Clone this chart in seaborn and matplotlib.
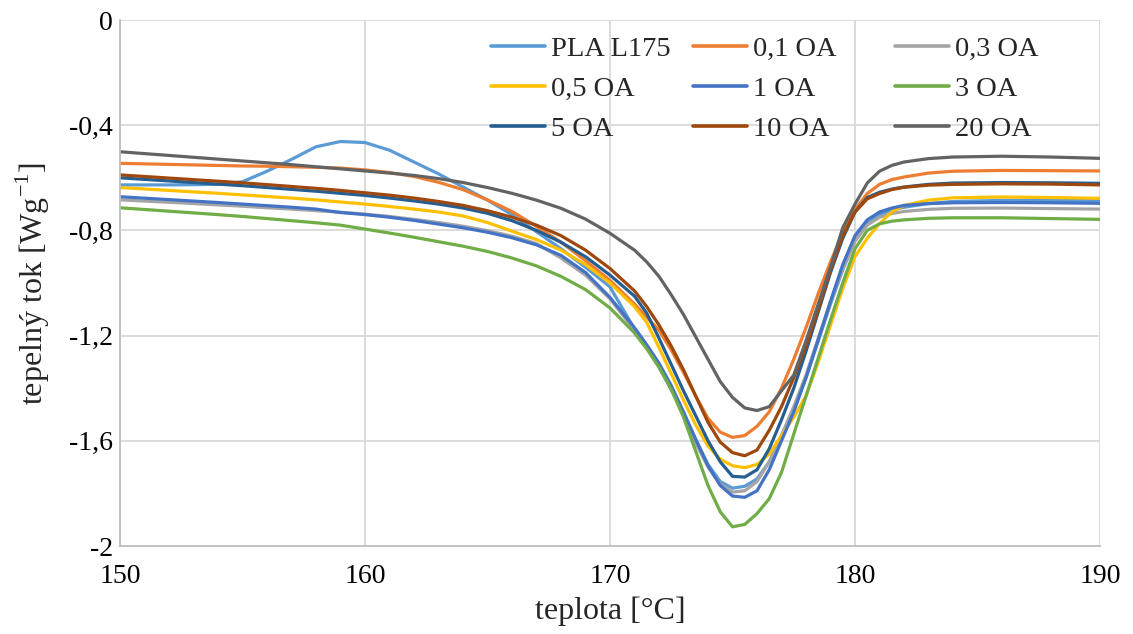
import numpy as np
import pandas as pd
import matplotlib
matplotlib.use("Agg")
import matplotlib.pyplot as plt
import seaborn as sns
from matplotlib.ticker import FixedLocator, FuncFormatter

# temperature grid [°C]
temperature = [150, 152, 154, 155, 156, 157, 158, 159, 160, 161, 162, 163, 164, 165, 166, 167, 168, 169, 170,
               171, 171.5, 172, 172.5, 173, 173.5, 174, 174.5, 175, 175.5, 176, 176.5, 177, 177.5,
               178, 178.5, 179, 179.5, 180, 180.5, 181, 181.5, 182, 183, 184, 186, 188, 190]

# heat flow [W/g]
pla_l175 = [-0.627, -0.627, -0.625, -0.615, -0.575, -0.530, -0.482, -0.462, -0.466, -0.495, -0.540, -0.585,
            -0.635, -0.685, -0.740, -0.805, -0.870, -0.940, -1.015,
            -1.175, -1.245, -1.320, -1.405, -1.495, -1.595, -1.690, -1.755, -1.780, -1.773, -1.745, -1.680,
            -1.580, -1.480, -1.360, -1.220, -1.080, -0.950, -0.840, -0.775, -0.740, -0.722, -0.712, -0.698,
            -0.690, -0.686, -0.686, -0.687]
oa_01 = [-0.545, -0.549, -0.553, -0.555, -0.556, -0.558, -0.560, -0.563, -0.570, -0.580, -0.595, -0.617,
         -0.645, -0.684, -0.728, -0.785, -0.845, -0.915, -0.990,
         -1.080, -1.130, -1.180, -1.255, -1.340, -1.430, -1.515, -1.567, -1.587, -1.580, -1.545, -1.490,
         -1.400, -1.290, -1.170, -1.040, -0.920, -0.810, -0.720, -0.660, -0.625, -0.607, -0.597, -0.582,
         -0.575, -0.572, -0.573, -0.574]
oa_03 = [-0.684, -0.693, -0.703, -0.708, -0.714, -0.719, -0.725, -0.731, -0.738, -0.747, -0.758, -0.770,
         -0.784, -0.801, -0.822, -0.850, -0.905, -0.970, -1.060,
         -1.180, -1.245, -1.315, -1.400, -1.500, -1.610, -1.700, -1.765, -1.795, -1.790, -1.755, -1.680,
         -1.580, -1.470, -1.350, -1.210, -1.070, -0.945, -0.840, -0.780, -0.750, -0.736, -0.728, -0.720,
         -0.716, -0.715, -0.717, -0.719]
oa_05 = [-0.637, -0.648, -0.659, -0.665, -0.671, -0.677, -0.684, -0.692, -0.700, -0.709, -0.719, -0.730,
         -0.745, -0.770, -0.803, -0.835, -0.875, -0.930, -1.000,
         -1.090, -1.150, -1.245, -1.345, -1.445, -1.540, -1.620, -1.670, -1.695, -1.702, -1.690, -1.650,
         -1.580, -1.510, -1.430, -1.300, -1.160, -1.020, -0.900, -0.830, -0.775, -0.730, -0.705, -0.685,
         -0.676, -0.673, -0.675, -0.678]
oa_1 = [-0.672, -0.683, -0.694, -0.700, -0.706, -0.712, -0.719, -0.732, -0.740, -0.750, -0.762, -0.776,
        -0.790, -0.807, -0.828, -0.855, -0.895, -0.960, -1.055,
        -1.170, -1.235, -1.305, -1.390, -1.490, -1.595, -1.695, -1.770, -1.810, -1.815, -1.790, -1.710,
        -1.600, -1.490, -1.360, -1.215, -1.070, -0.930, -0.820, -0.760, -0.730, -0.715, -0.705, -0.698,
        -0.695, -0.694, -0.695, -0.697]
oa_3 = [-0.714, -0.727, -0.740, -0.747, -0.755, -0.763, -0.771, -0.780, -0.795, -0.810, -0.826, -0.843,
        -0.860, -0.880, -0.905, -0.935, -0.975, -1.025, -1.095,
        -1.190, -1.250, -1.320, -1.405, -1.510, -1.640, -1.770, -1.870, -1.927, -1.918, -1.877, -1.820,
        -1.720, -1.575, -1.430, -1.285, -1.140, -1.000, -0.870, -0.800, -0.775, -0.765, -0.760, -0.754,
        -0.752, -0.752, -0.755, -0.758]
oa_5 = [-0.600, -0.612, -0.624, -0.630, -0.637, -0.644, -0.651, -0.659, -0.667, -0.677, -0.688, -0.700,
        -0.715, -0.735, -0.763, -0.800, -0.845, -0.900, -0.970,
        -1.050, -1.115, -1.210, -1.310, -1.410, -1.505, -1.600, -1.680, -1.735, -1.738, -1.710, -1.630,
        -1.520, -1.400, -1.260, -1.110, -0.960, -0.830, -0.730, -0.675, -0.655, -0.643, -0.635, -0.625,
        -0.620, -0.618, -0.619, -0.621]
oa_10 = [-0.589, -0.601, -0.613, -0.619, -0.626, -0.633, -0.640, -0.648, -0.657, -0.666, -0.677, -0.690,
         -0.705, -0.725, -0.750, -0.780, -0.820, -0.875, -0.945,
         -1.030, -1.090, -1.160, -1.240, -1.330, -1.430, -1.530, -1.605, -1.645, -1.657, -1.635, -1.560,
         -1.470, -1.360, -1.240, -1.100, -0.950, -0.820, -0.730, -0.680, -0.660, -0.645, -0.636, -0.628,
         -0.625, -0.623, -0.624, -0.627]
oa_20 = [-0.501, -0.515, -0.529, -0.536, -0.543, -0.550, -0.558, -0.566, -0.574, -0.582, -0.591, -0.603,
         -0.618, -0.637, -0.659, -0.685, -0.716, -0.757, -0.811,
         -0.875, -0.920, -0.975, -1.045, -1.120, -1.205, -1.290, -1.375, -1.435, -1.475, -1.485, -1.470,
         -1.410, -1.350, -1.220, -1.080, -0.940, -0.790, -0.700, -0.620, -0.575, -0.553, -0.540, -0.527,
         -0.521, -0.518, -0.521, -0.526]

series_names = ["PLA L175", "0,1 OA", "0,3 OA", "0,5 OA", "1 OA", "3 OA", "5 OA", "10 OA", "20 OA"]
series_values = [pla_l175, oa_01, oa_03, oa_05, oa_1, oa_3, oa_5, oa_10, oa_20]
series_colors = ["#5B9BD5", "#ED7D31", "#A5A5A5", "#FFC000", "#4472C4", "#70AD47", "#255E91", "#9E480E", "#636363"]

x_ticks = [150, 160, 170, 180, 190]
y_ticks = [0, -0.4, -0.8, -1.2, -1.6, -2]
x_label = "teplota [°C]"
y_label = r"tepelný tok [Wg$^{\mathregular{-1}}$]"

frames = [pd.DataFrame({"T": temperature, "flow": v, "series": n}) for n, v in zip(series_names, series_values)]
df = pd.concat(frames, ignore_index=True)

sns.set_theme(style="white")
plt.rcParams["font.family"] = ["Liberation Serif", "DejaVu Serif"]
plt.rcParams["mathtext.fontset"] = "custom"
plt.rcParams["mathtext.rm"] = "Liberation Serif"

W, H = 1133, 634
fig = plt.figure(figsize=(W / 100, H / 100), dpi=100)
ax = fig.add_axes([120 / W, 1 - 546 / H, (1100 - 120) / W, (546 - 20) / H])

sns.lineplot(data=df, x="T", y="flow", hue="series", hue_order=series_names,
             palette=dict(zip(series_names, series_colors)), linewidth=2.3,
             estimator=None, sort=False, ax=ax, legend=True)

ax.set_xlim(150, 190)
ax.set_ylim(-2, 0)
ax.xaxis.set_major_locator(FixedLocator(x_ticks))
ax.yaxis.set_major_locator(FixedLocator(y_ticks))
ax.yaxis.set_major_formatter(FuncFormatter(lambda v, p: ("%g" % round(v, 1)).replace(".", ",")))
ax.xaxis.set_major_formatter(FuncFormatter(lambda v, p: "%d" % v))
ax.grid(True, color="#D9D9D9", linewidth=1.3)
ax.set_axisbelow(True)
for s in ["top", "right"]:
    ax.spines[s].set_visible(False)
for s in ["left", "bottom"]:
    ax.spines[s].set_color("#BFBFBF")
    ax.spines[s].set_linewidth(1.3)
ax.tick_params(axis="both", length=0, labelsize=20, colors="black")
ax.tick_params(axis="x", pad=13)
ax.tick_params(axis="y", pad=5)
ax.set_xlabel(x_label, fontsize=23)
ax.set_ylabel(y_label, fontsize=23)
ax.xaxis.set_label_coords(0.5, (546 - 596) / 526)
ax.yaxis.set_label_coords((52 - 120) / 980, 0.5)

handles, labels = ax.get_legend_handles_labels()
ax.get_legend().remove()
col_x = [491, 693, 895]
for c in range(3):
    idx = [c, c + 3, c + 6]
    leg = ax.legend([handles[i] for i in idx], [labels[i] for i in idx], ncol=1, frameon=False,
                    fontsize=20.5, loc="upper left", bbox_to_anchor=(col_x[c] / W, 1 - 36 / H),
                    bbox_transform=fig.transFigure, borderpad=0, borderaxespad=0,
                    handlelength=1.9, handletextpad=0.2, labelspacing=0.5)
    for line in leg.get_lines():
        line.set_linewidth(2.6)
    if c < 2:
        ax.add_artist(leg)

fig.savefig("out.png", dpi=100)
